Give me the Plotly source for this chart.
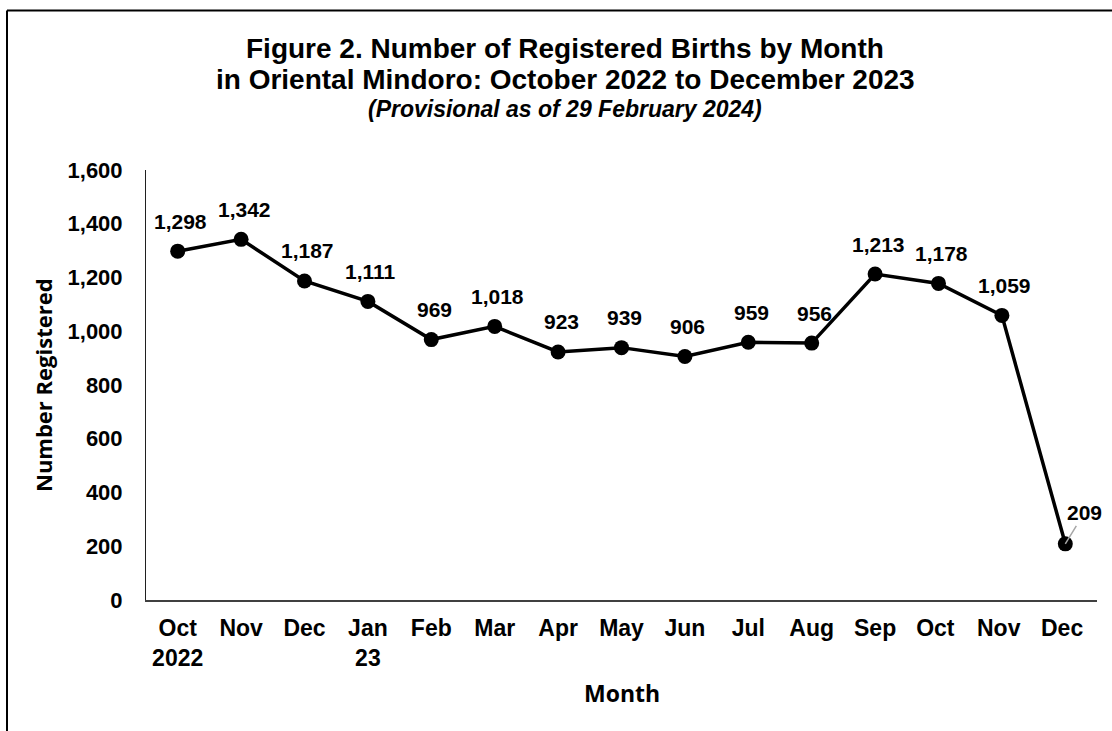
import plotly.graph_objects as go

months = ["Oct<br>2022", "Nov", "Dec", "Jan<br>23", "Feb", "Mar", "Apr", "May",
          "Jun", "Jul", "Aug", "Sep", "Oct ", "Nov ", "Dec "]
births = [1298, 1342, 1187, 1111, 969, 1018, 923, 939, 906, 959, 956, 1213, 1178, 1059, 209]
y_ticks = [0, 200, 400, 600, 800, 1000, 1200, 1400, 1600]

W, H = 1112, 731
L, R, T, B = 146, 15, 170, 131
PW, PH = W - L - R, H - T - B

def px_x(p):
    return (p - L) / PW

def px_y(p):
    return (H - B - p) / PH

ARIAL = "Arial, Liberation Sans, sans-serif"
OPEN = "Open Sans, sans-serif"

fig = go.Figure()
fig.add_trace(go.Scatter(
    x=list(range(len(months))), y=births, mode="lines+markers",
    line=dict(color="black", width=3.5),
    marker=dict(color="black", size=15),
    hoverinfo="skip", showlegend=False,
))

ann = []
for i, v in enumerate(births):
    txt = f"{v:,}"
    if i < len(births) - 1:
        ann.append(dict(x=i, y=v, xref="x", yref="y", text=f"<b>{txt}</b>",
                        showarrow=False, yshift=30, xshift=3,
                        font=dict(family=ARIAL, size=21, color="black")))
    else:
        ann.append(dict(x=i, y=v, xref="x", yref="y", text=f"<b>{txt}</b>",
                        showarrow=True, ax=19, ay=-31, arrowhead=0,
                        arrowcolor="#A6A6A6", arrowwidth=1.5, standoff=0,
                        font=dict(family=ARIAL, size=21, color="black")))

title_x = px_x(565)
ann.append(dict(x=title_x, y=px_y(48), xref="paper", yref="paper", showarrow=False,
                text="<b>Figure 2. Number of Registered Births by Month</b>",
                xanchor="center", yanchor="middle",
                font=dict(family=ARIAL, size=28, color="black")))
ann.append(dict(x=title_x, y=px_y(79), xref="paper", yref="paper", showarrow=False,
                text="<b>in Oriental Mindoro: October 2022 to December 2023</b>",
                xanchor="center", yanchor="middle",
                font=dict(family=ARIAL, size=28, color="black")))
ann.append(dict(x=title_x, y=px_y(109), xref="paper", yref="paper", showarrow=False,
                text="<b><i>(Provisional as of 29 February 2024)</i></b>",
                xanchor="center", yanchor="middle",
                font=dict(family=ARIAL, size=23, color="black")))
ann.append(dict(x=px_x(43), y=0.5, xref="paper", yref="paper", showarrow=False,
                text="<b>Number Registered</b>", textangle=-90,
                xanchor="center", yanchor="middle",
                font=dict(family=OPEN, size=22, color="black")))
ann.append(dict(x=0.5, y=px_y(693), xref="paper", yref="paper", showarrow=False,
                text="<b>Month</b>", xanchor="center", yanchor="middle",
                font=dict(family=OPEN, size=23, color="black")))

shapes = [
    dict(type="line", xref="paper", yref="paper", x0=px_x(7), x1=px_x(1200),
         y0=px_y(10.5), y1=px_y(10.5), line=dict(color="black", width=2)),
    dict(type="line", xref="paper", yref="paper", x0=px_x(7), x1=px_x(7),
         y0=px_y(10.5), y1=px_y(800), line=dict(color="black", width=2)),
]

fig.update_layout(
    width=W, height=H,
    margin=dict(l=L, r=R, t=T, b=B, pad=0),
    paper_bgcolor="white", plot_bgcolor="white",
    annotations=ann, shapes=shapes,
    xaxis=dict(
        tickmode="array", tickvals=list(range(len(months))), ticktext=[f"<b>{m}</b>" for m in months],
        range=[-0.5, len(months) - 0.5], showgrid=False, zeroline=False,
        showline=True, linecolor="#404040", linewidth=2, ticks="",
        tickfont=dict(family=ARIAL, size=23, color="black"), ticklabelstandoff=6,
    ),
    yaxis=dict(
        tickmode="array", tickvals=y_ticks, ticktext=[f"<b>{t:,}</b>" for t in y_ticks],
        range=[0, 1600], showgrid=False, zeroline=False,
        showline=True, linecolor="#202020", linewidth=1, ticks="",
        tickfont=dict(family=ARIAL, size=22, color="black"), ticklabelstandoff=18,
    ),
)

fig.write_html("out.html", config={"displayModeBar": False},
               post_script="document.body.style.margin='0';document.body.style.overflow='hidden';")
